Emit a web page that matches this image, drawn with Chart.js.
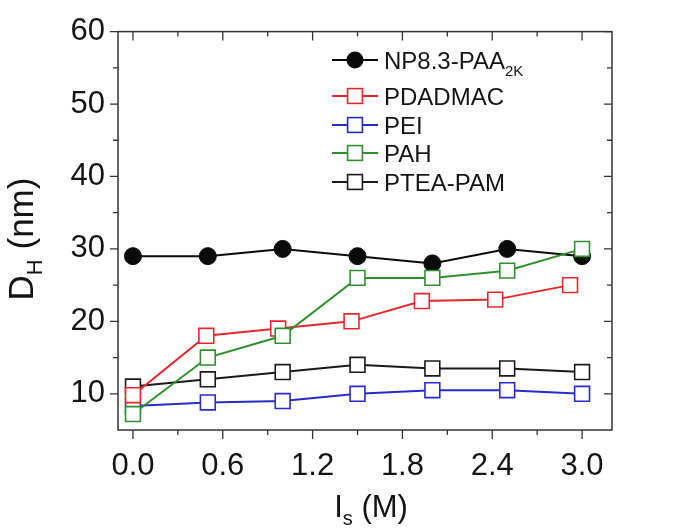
<!DOCTYPE html>
<html>
<head>
<meta charset="utf-8">
<script src="https://cdn.jsdelivr.net/npm/chart.js@4/dist/chart.umd.min.js"></script>
<style>
html,body{margin:0;padding:0;background:#fff;}
#wrap{width:685px;height:529px;position:relative;}
</style>
</head>
<body>
<div id="wrap"><canvas id="c" width="685" height="529"></canvas></div>
<script>
// ---- data ----
const seriesNames = ['NP8.3-PAA', 'PDADMAC', 'PEI', 'PAH', 'PTEA-PAM'];
const xNP       = [0, 0.5, 1.0, 1.5, 2.0, 2.5, 3.0];
const yNP       = [29, 29, 30, 29, 28, 30, 29];
const xPDADMAC  = [0, 0.49, 0.97, 1.46, 1.93, 2.42, 2.92];
const yPDADMAC  = [9.8, 18, 19, 20, 22.8, 23, 25];
const xPEI      = [0, 0.5, 1.0, 1.5, 2.0, 2.5, 3.0];
const yPEI      = [8.3, 8.8, 9.0, 10.0, 10.5, 10.5, 10.0];
const xPAH      = [0, 0.5, 1.0, 1.5, 2.0, 2.5, 3.0];
const yPAH      = [7.2, 15, 18, 26, 26, 27, 30];
const xPTEA     = [0, 0.5, 1.0, 1.5, 2.0, 2.5, 3.0];
const yPTEA     = [11, 12, 13, 14, 13.5, 13.5, 13];
const xTickLabels = [0.0, 0.6, 1.2, 1.8, 2.4, 3.0];
const xMinorTicks = [0.3, 0.9, 1.5, 2.1, 2.7];
const yTickLabels = [10, 20, 30, 40, 50, 60];
const yMinorTicks = [15, 25, 35, 45, 55];

const FONT = '"Liberation Sans", Arial, Helvetica, sans-serif';
const TXT = '#141414';

function pts(xs, ys){ return xs.map((x,i)=>({x:x, y:ys[i]})); }

const colors = ['#0a0a0a', '#e2282e', '#2a2ac4', '#2f8f2f', '#1a1a1a'];

function squareDs(label, xs, ys, color, order){
  return {
    label: label, data: pts(xs, ys), borderColor: color, backgroundColor: '#ffffff',
    borderWidth: 2, pointStyle: 'rect', pointRadius: 10.5, pointBorderWidth: 1.6,
    pointBorderColor: color, pointBackgroundColor: '#ffffff', tension: 0, order: order
  };
}

const datasets = [
  squareDs(seriesNames[4], xPTEA, yPTEA, colors[4], 5),
  squareDs(seriesNames[2], xPEI, yPEI, colors[2], 4),
  squareDs(seriesNames[1], xPDADMAC, yPDADMAC, colors[1], 3),
  squareDs(seriesNames[3], xPAH, yPAH, colors[3], 2),
  {
    label: seriesNames[0], data: pts(xNP, yNP), borderColor: colors[0], backgroundColor: colors[0],
    borderWidth: 2, pointStyle: 'circle', pointRadius: 8.5, pointBorderWidth: 1,
    pointBorderColor: colors[0], pointBackgroundColor: colors[0], tension: 0, order: 6
  }
];

const legendOrder = [
  {name: seriesNames[0], sub: '2K', color: colors[0], style: 'circle'},
  {name: seriesNames[1], color: colors[1], style: 'rect'},
  {name: seriesNames[2], color: colors[2], style: 'rect'},
  {name: seriesNames[3], color: colors[3], style: 'rect'},
  {name: seriesNames[4], color: colors[4], style: 'rect'}
];

const framePlugin = {
  id: 'frame',
  beforeDatasetsDraw(chart){
    const ctx = chart.ctx, a = chart.chartArea;
    const xs = chart.scales.x, ys = chart.scales.y;
    ctx.save();
    ctx.strokeStyle = '#333';
    ctx.lineWidth = 1.5;
    ctx.strokeRect(a.left, a.top, a.right - a.left, a.bottom - a.top);
    ctx.lineWidth = 1.3;
    ctx.beginPath();
    const xt = (v, len) => {
      const p = xs.getPixelForValue(v);
      ctx.moveTo(p, a.bottom); ctx.lineTo(p, a.bottom + len);
      ctx.moveTo(p, a.top); ctx.lineTo(p, a.top + len);
    };
    const yt = (v, len) => {
      const p = ys.getPixelForValue(v);
      ctx.moveTo(a.left, p); ctx.lineTo(a.left - len, p);
      ctx.moveTo(a.right, p); ctx.lineTo(a.right - len, p);
    };
    xTickLabels.forEach(v => xt(v, 9));
    xMinorTicks.forEach(v => xt(v, 5));
    yTickLabels.forEach(v => yt(v, 8));
    yMinorTicks.forEach(v => yt(v, 5));
    ctx.stroke();
    ctx.restore();
  },
  afterDraw(chart){
    const ctx = chart.ctx;
    ctx.save();
    ctx.fillStyle = TXT;
    ctx.textBaseline = 'alphabetic';
    // y title: D_H (nm)
    ctx.save();
    ctx.translate(33, 239);
    ctx.rotate(-Math.PI/2);
    const f1 = '35px ' + FONT, f2 = '22px ' + FONT;
    ctx.font = f1; const wD = ctx.measureText('D').width; const wR = ctx.measureText(' (nm)').width;
    ctx.font = f2; const wH = ctx.measureText('H').width;
    let tot = wD + wH + wR, x0 = -tot/2;
    ctx.font = f1; ctx.fillText('D', x0, 0);
    ctx.font = f2; ctx.fillText('H', x0 + wD, 9);
    ctx.font = f1; ctx.fillText(' (nm)', x0 + wD + wH, 0);
    ctx.restore();
    // x title: I_s (M)
    const g1 = '31px ' + FONT, g2 = '20px ' + FONT;
    ctx.font = g1; const wI = ctx.measureText('I').width; const wM = ctx.measureText(' (M)').width;
    ctx.font = g2; const wS = ctx.measureText('s').width;
    let t2 = wI + wS + wM, cx = 371 - t2/2, by = 517;
    ctx.font = g1; ctx.fillText('I', cx, by);
    ctx.font = g2; ctx.fillText('s', cx + wI, by + 8);
    ctx.font = g1; ctx.fillText(' (M)', cx + wI + wS, by);
    // legend
    const rows = [60, 96, 125, 153, 182];
    legendOrder.forEach((it, i) => {
      const y = rows[i];
      ctx.strokeStyle = it.color; ctx.lineWidth = 2;
      ctx.beginPath(); ctx.moveTo(332, y); ctx.lineTo(378, y); ctx.stroke();
      if (it.style === 'circle') {
        ctx.fillStyle = it.color;
        ctx.beginPath(); ctx.arc(355, y, 8.5, 0, Math.PI*2); ctx.fill();
      } else {
        ctx.fillStyle = '#fff'; ctx.lineWidth = 1.6;
        ctx.fillRect(355 - 7.4, y - 7.4, 14.8, 14.8);
        ctx.strokeRect(355 - 7.4, y - 7.4, 14.8, 14.8);
      }
      ctx.fillStyle = TXT;
      ctx.font = '24px ' + FONT;
      ctx.fillText(it.name, 384, y + 9);
      if (it.sub) {
        const w = ctx.measureText(it.name).width;
        ctx.font = '15px ' + FONT;
        ctx.fillText(it.sub, 384 + w, y + 16);
      }
    });
    ctx.restore();
  }
};

new Chart(document.getElementById('c'), {
  type: 'line',
  data: { datasets: datasets },
  options: {
    responsive: false,
    animation: false,
    devicePixelRatio: 1,
    layout: { padding: { left: 0, right: 73, top: 22, bottom: 0 } },
    plugins: { legend: { display: false }, tooltip: { enabled: false } },
    scales: {
      x: {
        type: 'linear', min: -0.1, max: 3.2,
        grid: { display: false, drawTicks: false },
        border: { display: false },
        afterBuildTicks: s => { s.ticks = xTickLabels.map(v => ({ value: v })); },
        afterFit: s => { s.height = 99; },
        ticks: { font: { family: FONT, size: 31 }, color: TXT, padding: 18, maxRotation: 0, autoSkip: false,
                 callback: v => Number(v).toFixed(1) }
      },
      y: {
        type: 'linear', min: 5, max: 60,
        grid: { display: false, drawTicks: false },
        border: { display: false },
        afterBuildTicks: s => { s.ticks = yTickLabels.map(v => ({ value: v })); },
        afterFit: s => { s.width = 118; },
        ticks: { font: { family: FONT, size: 31 }, color: TXT, padding: 13, autoSkip: false,
                 callback: v => String(v) }
      }
    }
  },
  plugins: [framePlugin]
});
</script>
</body>
</html>
